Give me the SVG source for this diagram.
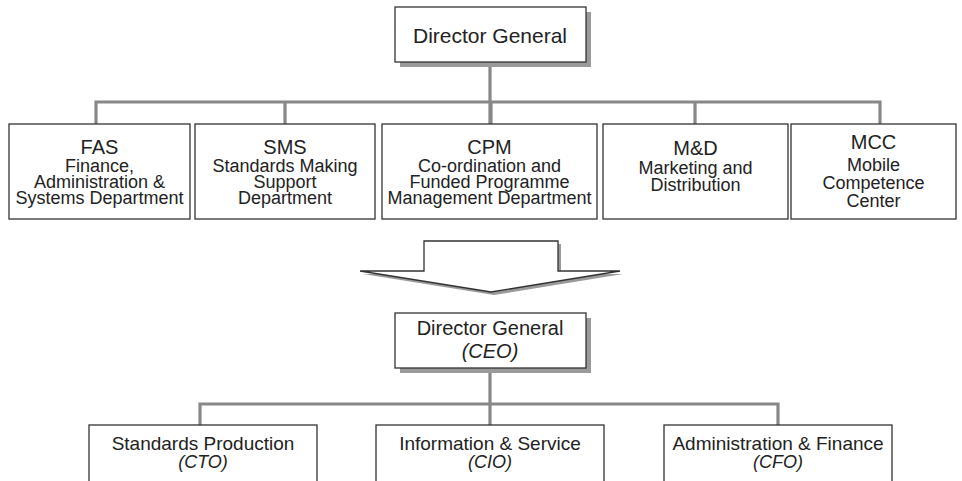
<svg xmlns="http://www.w3.org/2000/svg" width="962" height="481" viewBox="0 0 962 481">
<style>
.box{fill:#fff;stroke:#333;stroke-width:1.3}
.shadow{fill:#9a9a9a}
.conn{fill:none;stroke:#888;stroke-width:3.2}
text{font-family:"Liberation Sans",Arial,sans-serif;fill:#222;text-anchor:middle}
.t1{font-size:21px}
.t2{font-size:20px}
.s{font-size:18px}
.b{font-size:19px}
.i{font-style:italic}
</style>
<rect width="962" height="481" fill="#fff"/>
<g id="connectors">
<path class="conn" d="M490 62V124M96 124V102H880V124M285 102V124M491 102V124M695 102V124"/>
<path class="conn" d="M490 368V425M200 425V404H778V425"/>
</g>
<g id="dg-top">
<rect class="shadow" x="400" y="12" width="191" height="55"/>
<rect class="box" x="395" y="7" width="191" height="55"/>
<text class="t1" x="490" y="43">Director General</text>
</g>
<g id="fas">
<rect class="box" x="9" y="124" width="181" height="95"/>
<text class="t2" x="99.5" y="154">FAS</text>
<text class="s" x="99.5" y="172">Finance,</text>
<text class="s" x="99.5" y="188">Administration &amp;</text>
<text class="s" x="99.5" y="204">Systems Department</text>
</g>
<g id="sms">
<rect class="box" x="195" y="124" width="180" height="95"/>
<text class="t2" x="285" y="154">SMS</text>
<text class="s" x="285" y="172">Standards Making</text>
<text class="s" x="285" y="188">Support</text>
<text class="s" x="285" y="204">Department</text>
</g>
<g id="cpm">
<rect class="box" x="382" y="124" width="215" height="95"/>
<text class="t2" x="489.5" y="154">CPM</text>
<text class="s" x="489.5" y="172">Co-ordination and</text>
<text class="s" x="489.5" y="188">Funded Programme</text>
<text class="s" x="489.5" y="204">Management Department</text>
</g>
<g id="md">
<rect class="box" x="603" y="124" width="185" height="95"/>
<text class="t2" x="695.5" y="155">M&amp;D</text>
<text class="s" x="695.5" y="174">Marketing and</text>
<text class="s" x="695.5" y="191">Distribution</text>
</g>
<g id="mcc">
<rect class="box" x="791" y="124" width="165" height="95"/>
<text class="t2" x="873.5" y="149">MCC</text>
<text class="s" x="873.5" y="171">Mobile</text>
<text class="s" x="873.5" y="189">Competence</text>
<text class="s" x="873.5" y="207">Center</text>
</g>
<g id="arrow">
<polygon class="shadow" points="427,244 561,244 561,274 623,274 494,295 363,274 427,274"/>
<polygon class="box" points="424,241 558,241 558,271 620,271 491,292 360,271 424,271"/>
</g>
<g id="dg-ceo">
<rect class="shadow" x="400" y="318" width="191" height="55"/>
<rect class="box" x="395" y="313" width="191" height="55"/>
<text class="t2" x="490" y="335">Director General</text>
<text class="t2 i" x="490" y="358">(CEO)</text>
</g>
<g id="cto">
<rect class="box" x="89" y="425" width="228" height="70"/>
<text class="b" x="203" y="450">Standards Production</text>
<text class="s i" x="203" y="468">(CTO)</text>
</g>
<g id="cio">
<rect class="box" x="376" y="425" width="228" height="70"/>
<text class="b" x="490" y="450">Information &amp; Service</text>
<text class="s i" x="490" y="468">(CIO)</text>
</g>
<g id="cfo">
<rect class="box" x="664" y="425" width="228" height="70"/>
<text class="b" x="778" y="450">Administration &amp; Finance</text>
<text class="s i" x="778" y="468">(CFO)</text>
</g>
</svg>
